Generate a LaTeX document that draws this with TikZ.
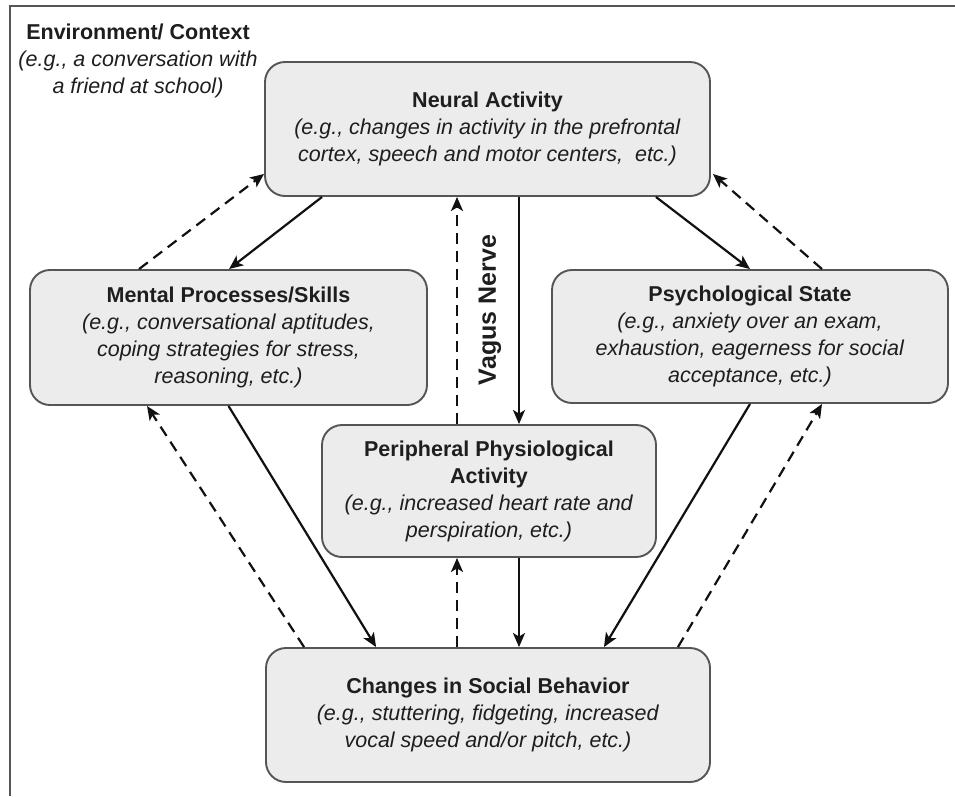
\documentclass[tikz,border=0pt]{standalone}
\usepackage{fontspec}
\setmainfont{Liberation Sans}
\usetikzlibrary{calc,arrows.meta}
\definecolor{boxfill}{HTML}{ECECEC}
\definecolor{boxline}{HTML}{555555}
\definecolor{txt}{HTML}{1E1E1E}
\definecolor{arr}{HTML}{111111}
\begin{document}
\begin{tikzpicture}[x=1pt,y=-1pt,
  box/.style={draw=boxline, fill=boxfill, line width=1.9pt, rounded corners=20pt,
    align=center, text=txt, inner sep=0pt, font=\fontsize{21.5}{27}\selectfont},
  solidarr/.style={draw=arr, line width=2.2pt, -{Stealth[length=14pt,width=12pt,inset=3.5pt]}},
  dasharr/.style={solidarr, dash pattern=on 11pt off 7pt},
  lbl/.style={align=center, text=txt, inner sep=0pt, font=\fontsize{21.5}{27}\selectfont}]
\useasboundingbox (0,0) rectangle (955,796);
\fill[white] (0,0) rectangle (955,796);
\draw[line width=2.2pt, color=boxline] (10,796) -- (10,6) -- (955,6);

\node[lbl] (env) at (138,61) {\textbf{Environment/ Context}\\ \textit{(e.g., a conversation with}\\ \textit{a friend at school)}};

\node[box, minimum width=445pt, minimum height=134pt] (neural) at (487.5,129)
 {\textbf{Neural Activity}\\ \textit{(e.g., changes in activity in the prefrontal}\\ \textit{cortex, speech and motor centers,\ \ etc.)}};
\node[box, minimum width=397pt, minimum height=135pt] (mental) at (228.5,337.5)
 {\textbf{Mental Processes/Skills}\\ \textit{(e.g., conversational aptitudes,}\\ \textit{coping strategies for stress,}\\ \textit{reasoning, etc.)}};
\node[box, minimum width=396pt, minimum height=133pt] (psych) at (750,336.5)
 {\textbf{Psychological State}\\ \textit{(e.g., anxiety over an exam,}\\ \textit{exhaustion, eagerness for social}\\ \textit{acceptance, etc.)}};
\node[box, minimum width=334pt, minimum height=132pt] (periph) at (489,491)
 {\textbf{Peripheral Physiological}\\ \textbf{Activity}\\ \textit{(e.g., increased heart rate and}\\ \textit{perspiration, etc.)}};
\node[box, minimum width=444pt, minimum height=134pt] (social) at (488,715)
 {\textbf{Changes in Social Behavior}\\ \textit{(e.g., stuttering, fidgeting, increased}\\ \textit{vocal speed and/or pitch, etc.)}};

\node[lbl, rotate=90, font=\fontsize{25}{30}\selectfont] (vagus) at (490,310) {\textbf{Vagus Nerve}};

% Neural <-> Mental
\draw[solidarr] ($(neural.south west)+(58,0)$) -- ($(mental.north west)+(200,0)$);
\draw[dasharr] ($(mental.north west)+(110,0)$) -- ($(neural.south west)+(0,-23)$);
% Neural <-> Psych
\draw[solidarr] ($(neural.south east)+(-55,0)$) -- (psych.north);
\draw[dasharr] ($(psych.north)+(72,0)$) -- ($(neural.south east)+(2,-23)$);
% Vagus nerve
\coordinate (vup) at ($(periph.north)+(-32,0)$);
\coordinate (vdn) at ($(periph.north)+(30,0)$);
\draw[dasharr] (vup) -- (vup |- neural.south);
\draw[solidarr] (vdn |- neural.south) -- (vdn);
% Peripheral <-> Social
\coordinate (pup) at ($(social.north)+(-31,0)$);
\coordinate (pdn) at ($(social.north)+(31,0)$);
\draw[dasharr] (pup) -- (pup |- periph.south);
\draw[solidarr] (pdn |- periph.south) -- (pdn);
% Mental <-> Social
\draw[solidarr] (mental.south) -- ($(social.north west)+(111,0)$);
\draw[dasharr] ($(social.north west)+(39,0)$) -- ($(mental.south west)+(118,0)$);
% Psych <-> Social
\draw[solidarr] (psych.south) -- ($(social.north east)+(-107,0)$);
\draw[dasharr] ($(social.north east)+(-33,0)$) -- ($(psych.south)+(72,0)$);
\end{tikzpicture}
\end{document}
